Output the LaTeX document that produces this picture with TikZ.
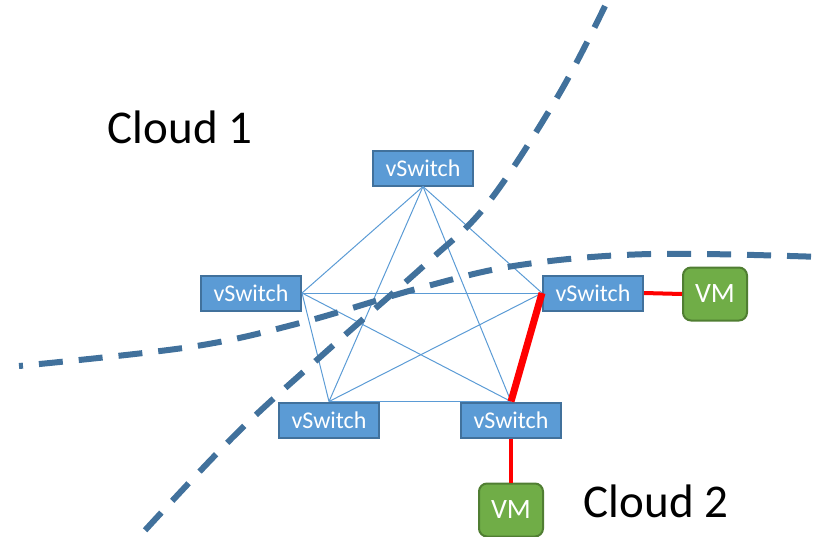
\documentclass[tikz,border=0pt]{standalone}
\usepackage{fontspec}
\setmainfont{Carlito}
\definecolor{swfill}{HTML}{5B9BD5}
\definecolor{swline}{HTML}{41719C}
\definecolor{vmfill}{HTML}{70AD47}
\definecolor{vmline}{HTML}{507E32}
\tikzset{
  vswitch/.style={draw=swline, line width=2pt, fill=swfill, text=white,
    minimum width=100pt, minimum height=35pt, inner sep=0pt,
    font=\fontsize{24pt}{28pt}\selectfont},
  vm/.style={draw=vmline, line width=2pt, fill=vmfill, text=white,
    rounded corners=8pt, minimum width=64pt, minimum height=53pt, inner sep=0pt,
    font=\fontsize{28pt}{32pt}\selectfont},
  cloudname/.style={anchor=base, font=\fontsize{47pt}{56pt}\selectfont},
  mesh/.style={draw=swfill, line width=1pt},
  link/.style={draw=red, line width=4pt},
  border/.style={draw=swline, line width=6pt, dash pattern=on 24pt off 16pt},
}
\begin{document}
\begin{tikzpicture}[x=1pt, y=-1pt]
    \useasboundingbox (0,0) rectangle (821,536);

    \node[vswitch] (top) at (423,168) {vSwitch};
    \node[vswitch] (left) at (251,293) {vSwitch};
    \node[vswitch] (right) at (593,293) {vSwitch};
    \node[vswitch] (botl) at (329,420) {vSwitch};
    \node[vswitch] (botr) at (511,420) {vSwitch};
    \node[vm] (vmr) at (715,294) {VM};
    \node[vm] (vmb) at (511,510) {VM};
    \node[cloudname] (c1) at (180,143) {Cloud 1};
    \node[cloudname] (c2) at (656,517) {Cloud 2};

    % full mesh between the switches
    \draw[mesh] (top.south) -- (left.east);
    \draw[mesh] (top.south) -- (right.west);
    \draw[mesh] (top.south) -- (botl.north);
    \draw[mesh] (top.south) -- (botr.north);
    \draw[mesh] (left.east) -- (right.west);
    \draw[mesh] (left.east) -- (botl.north);
    \draw[mesh] (left.east) -- (botr.north);
    \draw[mesh] (right.west) -- (botl.north);
    \draw[mesh] (botl.north) -- (botr.north);

    % path between the two VMs
    \draw[link, line width=7pt] (right.west) -- (botr.north);
    \draw[link] (right.east) -- (vmr.west);
    \draw[link] (botr.south) -- (vmb.north);

    % cloud borders
    \draw[border] plot[smooth, tension=0.6] coordinates
      {(605,6) (558,96) (488,203) (428,262) (328,350) (235,435) (138,538)};
    \draw[border, dash phase=20pt] plot[smooth, tension=0.6] coordinates
      {(19,366) (190,347) (300,323) (420,288) (520,265) (650,254) (821,257)};
\end{tikzpicture}
\end{document}
